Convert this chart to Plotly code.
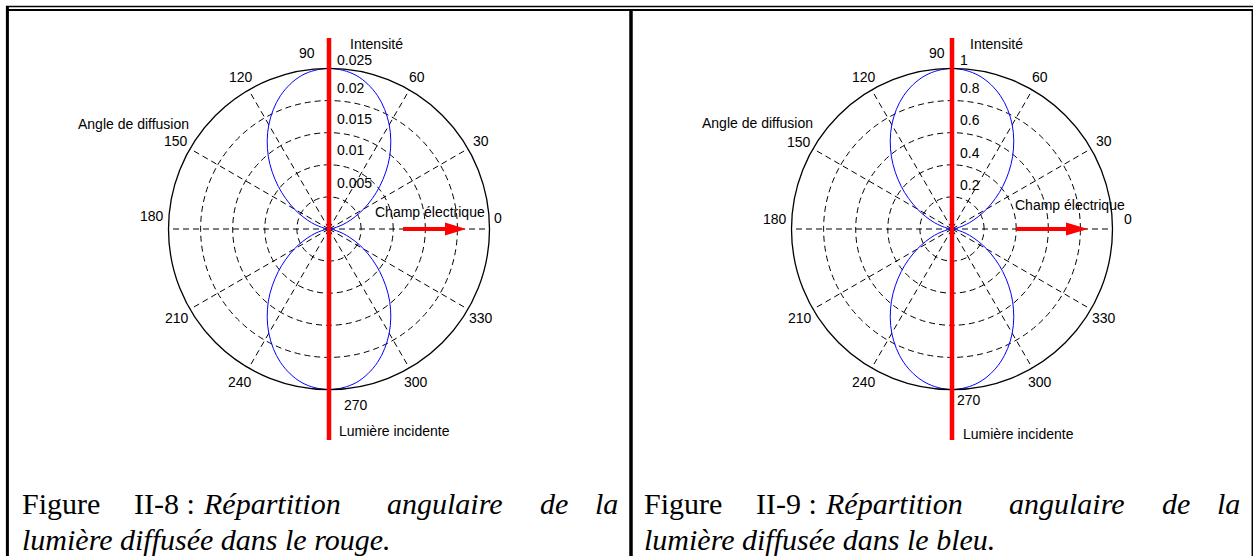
import plotly.graph_objects as go

W, H = 1253, 556

# ---------------- data ----------------
angles_deg = [0, 10, 20, 30, 40, 50, 60, 70, 80, 90, 100, 110, 120, 130, 140, 150, 160, 170, 180,
              190, 200, 210, 220, 230, 240, 250, 260, 270, 280, 290, 300, 310, 320, 330, 340, 350, 360]
intensity_red = [0, 0.00075, 0.0029, 0.00625, 0.0103, 0.0147, 0.01875, 0.0221, 0.0243, 0.025,
                 0.0243, 0.0221, 0.01875, 0.0147, 0.0103, 0.00625, 0.0029, 0.00075, 0,
                 0.00075, 0.0029, 0.00625, 0.0103, 0.0147, 0.01875, 0.0221, 0.0243, 0.025,
                 0.0243, 0.0221, 0.01875, 0.0147, 0.0103, 0.00625, 0.0029, 0.00075, 0]
intensity_blue = [0, 0.03, 0.117, 0.25, 0.413, 0.587, 0.75, 0.883, 0.97, 1,
                  0.97, 0.883, 0.75, 0.587, 0.413, 0.25, 0.117, 0.03, 0,
                  0.03, 0.117, 0.25, 0.413, 0.587, 0.75, 0.883, 0.97, 1,
                  0.97, 0.883, 0.75, 0.587, 0.413, 0.25, 0.117, 0.03, 0]
angle_ticks = [0, 30, 60, 90, 120, 150, 180, 210, 240, 270, 300, 330]
red_rings = [0.005, 0.01, 0.015, 0.02, 0.025]
red_ring_labels = ["0.005", "0.01", "0.015", "0.02", "0.025"]
blue_rings = [0.2, 0.4, 0.6, 0.8, 1.0]
blue_ring_labels = ["0.2", "0.4", "0.6", "0.8", "1"]

caption_left_1 = ["Figure", "II-8 :", "Répartition", "angulaire", "de", "la"]
caption_left_2 = "lumière diffusée dans le rouge."
caption_right_1 = ["Figure", "II-9 :", "Répartition", "angulaire", "de", "la"]
caption_right_2 = "lumière diffusée dans le bleu."

# ---------------- layout (pixel geometry) ----------------
R = 160.5
CY = 229
panels = [
    dict(cx=329, rmax=0.025, r=intensity_red, rings=red_rings, ring_labels=red_ring_labels,
         ring_label_x=335, ring_label_y=[183, 150, 119, 88, 60],
         angle_pos={0: (498, 218), 30: (481, 141), 60: (417, 77), 90: (307, 53), 120: (241, 77),
                    150: (176, 141), 180: (152, 216), 210: (177, 318), 240: (240, 382),
                    270: (356, 405), 300: (416, 382), 330: (481, 318)},
         intens=(376, 44), angle_lbl=(133, 124), champ=(430, 212), lum=(394, 431),
         arrow=(403, 445, 466),
         cap_x=[20, 132, 201, 385, 538, 620], cap1=caption_left_1, cap2=caption_left_2, cap2_x=20),
    dict(cx=952, rmax=1.0, r=intensity_blue, rings=blue_rings, ring_labels=blue_ring_labels,
         ring_label_x=958, ring_label_y=[185, 153, 120, 88, 60],
         angle_pos={0: (1128, 219), 30: (1104, 141), 60: (1040, 77), 90: (937, 53), 120: (864, 77),
                    150: (799, 142), 180: (775, 219), 210: (800, 318), 240: (864, 382),
                    270: (969, 400), 300: (1040, 382), 330: (1104, 318)},
         intens=(996, 44), angle_lbl=(757, 123), champ=(1070, 205), lum=(1018, 434),
         arrow=(1016, 1066, 1088),
         cap_x=[642, 754, 823, 1007, 1160, 1242], cap1=caption_right_1, cap2=caption_right_2, cap2_x=642),
]


def px(x):
    return x / W


def py(y):
    return 1 - y / H


LABEL_FONT = dict(family="Liberation Sans, Arial, sans-serif", size=14, color="black")
CAP_FONT = dict(family="Liberation Serif, Times New Roman, serif", size=30, color="black")

fig = go.Figure()
annotations = []
shapes = []

for i, p in enumerate(panels):
    pname = "polar" if i == 0 else "polar2"
    fig.add_trace(go.Scatterpolar(
        r=p["r"], theta=angles_deg, mode="lines",
        line=dict(color="#0000ff", width=1, shape="spline"),
        subplot=pname, showlegend=False, hoverinfo="skip"))
    polar_cfg = dict(
        domain=dict(x=[px(p["cx"] - R), px(p["cx"] + R)], y=[py(CY + R), py(CY - R)]),
        bgcolor="white",
        radialaxis=dict(range=[0, p["rmax"]], tickvals=p["rings"], showticklabels=False, ticks="",
                        showline=False, gridcolor="black", gridwidth=0.8, griddash="6px,4px"),
        angularaxis=dict(tickvals=angle_ticks, showticklabels=False, ticks="", showline=True,
                         linecolor="black", linewidth=1.3, gridcolor="black", gridwidth=0.8,
                         griddash="6px,4px", rotation=0, direction="counterclockwise"),
    )
    fig.update_layout(**{pname: polar_cfg})

    # angular tick labels
    for a in angle_ticks:
        x, y = p["angle_pos"][a]
        annotations.append(dict(x=px(x), y=py(y), xref="paper", yref="paper", text=str(a),
                                showarrow=False, font=LABEL_FONT, xanchor="center", yanchor="middle"))
    # radial tick labels
    for lbl, y in zip(p["ring_labels"], p["ring_label_y"]):
        annotations.append(dict(x=px(p["ring_label_x"]), y=py(y), xref="paper", yref="paper", text=lbl,
                                showarrow=False, font=LABEL_FONT, xanchor="left", yanchor="middle"))
    for key, txt in [("intens", "Intensité"), ("angle_lbl", "Angle de diffusion"),
                     ("champ", "Champ électrique"), ("lum", "Lumière incidente")]:
        x, y = p[key]
        annotations.append(dict(x=px(x), y=py(y), xref="paper", yref="paper", text=txt,
                                showarrow=False, font=LABEL_FONT, xanchor="center", yanchor="middle"))

    # red vertical line (incident light)
    shapes.append(dict(type="line", xref="paper", yref="paper", x0=px(p["cx"]), x1=px(p["cx"]),
                       y0=py(38), y1=py(440), line=dict(color="#ff0000", width=4.5), layer="above"))
    # electric field arrow
    x0, xh, xt = p["arrow"]
    shapes.append(dict(type="line", xref="paper", yref="paper", x0=px(x0), x1=px(xh + 1),
                       y0=py(CY), y1=py(CY), line=dict(color="#ff0000", width=4), layer="above"))
    shapes.append(dict(type="path", xref="paper", yref="paper",
                       path=f"M{px(xh)},{py(CY - 6.5)} L{px(xt)},{py(CY)} L{px(xh)},{py(CY + 6.5)} Z",
                       fillcolor="#ff0000", line=dict(color="#ff0000", width=0), layer="above"))

    # captions
    for j, (word, x) in enumerate(zip(p["cap1"], p["cap_x"])):
        txt = word if j < 2 else f"<i>{word}</i>"
        annotations.append(dict(x=px(x), y=py(503), xref="paper", yref="paper", text=txt,
                                showarrow=False, font=CAP_FONT,
                                xanchor="right" if j == 5 else "left", yanchor="middle"))
    annotations.append(dict(x=px(p["cap2_x"]), y=py(539), xref="paper", yref="paper",
                            text=f"<i>{p['cap2']}</i>", showarrow=False, font=CAP_FONT,
                            xanchor="left", yanchor="middle"))

# table borders
border = [
    (6, 6.6, 1253, 6.6, 1.5),
    (6, 9.9, 1252, 9.9, 2),
    (7.4, 6, 7.4, 556, 3),
    (631, 9, 631, 556, 3.5),
    (1252.3, 9, 1252.3, 556, 1.5),
]
for x0, y0, x1, y1, w in border:
    shapes.append(dict(type="line", xref="paper", yref="paper", x0=px(x0), y0=py(y0), x1=px(x1), y1=py(y1),
                       line=dict(color="black", width=w), layer="above"))

fig.update_layout(
    width=W, height=H, margin=dict(l=0, r=0, t=0, b=0, pad=0),
    paper_bgcolor="white", plot_bgcolor="white", showlegend=False,
    annotations=annotations, shapes=shapes,
)

fig.write_html(
    "out.html",
    config={"displayModeBar": False},
    post_script="document.body.style.margin='0px';document.body.style.overflow='hidden';",
)
